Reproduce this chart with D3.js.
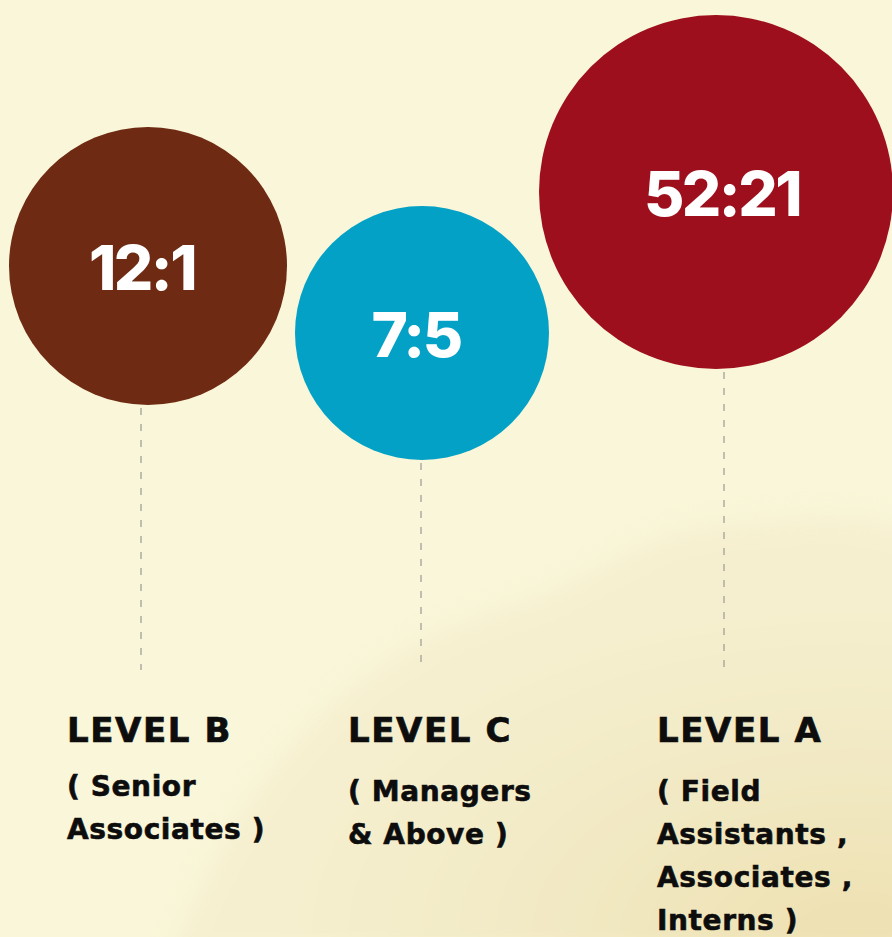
<!DOCTYPE html>
<html>
<head>
<meta charset="utf-8">
<script src="https://cdn.jsdelivr.net/npm/d3@7"></script>
<style>
  html, body { margin: 0; padding: 0; background: #f9f6d9; }
  svg { display: block; }
</style>
</head>
<body>
<div id="chart"></div>
<script>
// data, left to right as drawn
const levels = ["LEVEL B", "LEVEL C", "LEVEL A"];
const ratios = ["12:1", "7:5", "52:21"];
const descriptions = [
    ["( Senior", "Associates )"],
    ["( Managers", "& Above )"],
    ["( Field", "Assistants ,", "Associates ,", "Interns )"]
];
const colors = ["#6e2a12", "#04a1c6", "#9d0f1c"];

const width = 892, height = 937;

// layout of each column (circle centre, dashed stem, label block)
const circleX = d3.scaleOrdinal().domain(levels).range([148, 422, 716]);
const circleY = d3.scaleOrdinal().domain(levels).range([266, 333, 192]);
const radius = d3.scaleOrdinal().domain(levels).range([139, 127, 177]);
const stemX = d3.scaleOrdinal().domain(levels).range([141, 421, 724]);
const ratioX = d3.scaleOrdinal().domain(levels).range([142, 416, 722]);
const labelX = d3.scaleOrdinal().domain(levels).range([67, 348, 657]);
const descTop = d3.scaleOrdinal().domain(levels).range([796, 801, 801]);
const stemBottom = 670;

const labelFont = '"DejaVu Sans", Inter, sans-serif';

const svg = d3.select('#chart')
    .append('svg')
    .attr('width', width)
    .attr('height', height);

// paper background with a soft stain at the bottom right
const defs = svg.append('defs');
defs.append('filter').attr('id', 'soft')
    .attr('x', '-20%').attr('y', '-20%').attr('width', '140%').attr('height', '140%')
    .append('feGaussianBlur').attr('stdDeviation', 12);

const grad = defs.append('radialGradient').attr('id', 'stain')
    .attr('cx', '90%').attr('cy', '95%').attr('r', '75%');
grad.append('stop').attr('offset', '0%').attr('stop-color', '#ebdca8');
grad.append('stop').attr('offset', '55%').attr('stop-color', '#f1e7c0');
grad.append('stop').attr('offset', '100%').attr('stop-color', '#f5eecd');

svg.append('rect')
    .attr('width', width).attr('height', height)
    .attr('fill', '#f9f6d9');

svg.append('path')
    .attr('d', 'M170,960 C230,800 330,660 500,610 C590,585 640,530 720,525 C800,520 860,505 930,540 L930,960 Z')
    .attr('fill', 'url(#stain)')
    .attr('opacity', 0.8)
    .attr('filter', 'url(#soft)');

const col = svg.selectAll('g.level')
    .data(levels)
    .enter()
    .append('g')
    .classed('level', true);

col.append('line')
    .attr('x1', d => stemX(d))
    .attr('x2', d => stemX(d))
    .attr('y1', d => circleY(d) + radius(d) + 3)
    .attr('y2', stemBottom)
    .attr('stroke', '#9a9a94')
    .attr('stroke-width', 1.2)
    .attr('stroke-dasharray', '7,9');

col.append('circle')
    .attr('cx', d => circleX(d))
    .attr('cy', d => circleY(d))
    .attr('r', d => radius(d))
    .attr('fill', (d, i) => colors[i]);

col.append('text')
    .attr('x', d => ratioX(d))
    .attr('y', d => circleY(d) + 24)
    .attr('text-anchor', 'middle')
    .attr('font-family', 'Inter, "Open Sans", sans-serif')
    .attr('font-weight', 800)
    .attr('font-size', 62)
    .attr('letter-spacing', -2.5)
    .attr('fill', '#fff')
    .text((d, i) => ratios[i]);

col.append('text')
    .attr('x', d => labelX(d))
    .attr('y', 742)
    .attr('font-family', labelFont)
    .attr('font-weight', 700)
    .attr('font-size', 34)
    .attr('letter-spacing', 1.6)
    .attr('fill', '#0d0d0d')
    .attr('stroke', '#0d0d0d')
    .attr('stroke-width', 0.7)
    .text(d => d);

col.each(function(d, i) {
    d3.select(this).selectAll('text.desc')
        .data(descriptions[i])
        .enter()
        .append('text')
        .classed('desc', true)
        .attr('x', labelX(d))
        .attr('y', (t, j) => descTop(d) + j * 43)
        .attr('font-family', labelFont)
        .attr('font-weight', 700)
        .attr('font-size', 28)
        .attr('letter-spacing', 0.6)
        .attr('fill', '#0d0d0d')
        .attr('stroke', '#0d0d0d')
        .attr('stroke-width', 0.6)
        .text(t => t);
});
</script>
</body>
</html>
